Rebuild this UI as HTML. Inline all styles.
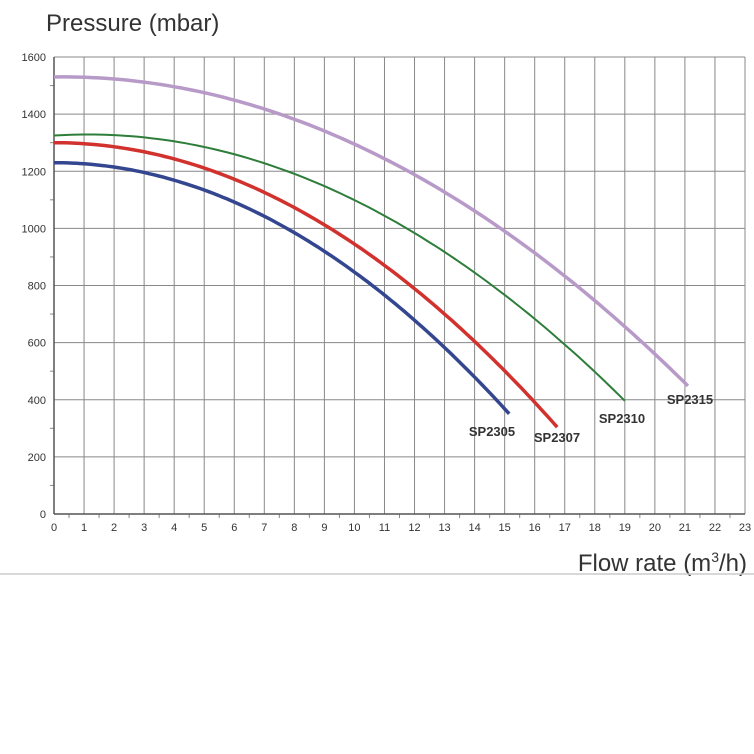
<!DOCTYPE html>
<html><head><meta charset="utf-8"><style>
html,body{margin:0;padding:0;background:#fff;}
svg{display:block;font-family:"Liberation Sans",sans-serif;}
</style></head><body>
<svg id="s" width="754" height="754" viewBox="0 0 754 754" xmlns="http://www.w3.org/2000/svg">
<text x="46" y="31" font-size="24" fill="#333">Pressure (mbar)</text>
<g id="grid"></g>
<g id="curves"></g>
<g font-size="13" font-weight="bold" fill="#333" text-anchor="middle">
<text x="492" y="436">SP2305</text>
<text x="557" y="442">SP2307</text>
<text x="622" y="423">SP2310</text>
<text x="690" y="404">SP2315</text>
</g>
<text x="747" y="571" font-size="24" fill="#333" text-anchor="end">Flow rate (m<tspan font-size="14" dy="-9">3</tspan><tspan dy="9">/h)</tspan></text>
<line x1="0" y1="574" x2="754" y2="574" stroke="#ccc" stroke-width="1.5"/>
</svg>
<script>
var NS="http://www.w3.org/2000/svg";
var X0=54,X1=745,Y0=514,Y1=57;
function px(x){return X0+(X1-X0)*x/23;}
function py(v){return Y0-(Y0-Y1)*v/1600;}
function el(p,t,a){var e=document.createElementNS(NS,t);for(var k in a)e.setAttribute(k,a[k]);p.appendChild(e);return e;}
var g=document.getElementById('grid');
for(var i=0;i<=23;i++){el(g,'line',{x1:px(i),x2:px(i),y1:Y1,y2:Y0,stroke:'#888','stroke-width':1});
 var t=el(g,'text',{x:px(i),y:Y0+17,'font-size':11,fill:'#333','text-anchor':'middle'});t.textContent=i;}
for(var i=0;i<23;i++){el(g,'line',{x1:px(i+.5),x2:px(i+.5),y1:Y0,y2:Y0+4,stroke:'#888'});}
for(var v=0;v<=1600;v+=200){el(g,'line',{x1:X0,x2:X1,y1:py(v),y2:py(v),stroke:'#888','stroke-width':1});
 var t=el(g,'text',{x:X0-8,y:py(v)+4,'font-size':11,fill:'#333','text-anchor':'end'});t.textContent=v;}
for(var v=100;v<1600;v+=200){el(g,'line',{x1:X0-4,x2:X0,y1:py(v),y2:py(v),stroke:'#888'});}
el(g,'line',{x1:X0,x2:X1,y1:Y0,y2:Y0,stroke:'#555','stroke-width':1.5});
el(g,'line',{x1:X0,x2:X0,y1:Y1,y2:Y0,stroke:'#555','stroke-width':1.5});
var c=document.getElementById('curves');
var cs=[
 {a:1530,c:1.5,b:2.5,e:21.1,col:'#b89ac8',w:3.5},
 {a:1325,c:6.6,b:2.92,e:19,col:'#2e7d3a',w:2},
 {a:1300,c:0,b:3.55,e:16.75,col:'#d2322d',w:3.5},
 {a:1230,c:0,b:3.83,e:15.15,col:'#34468f',w:3.5}];
cs.forEach(function(k){var d='';for(var i=0;i<=100;i++){var x=k.e*i/100;var v=k.a+k.c*x-k.b*x*x;d+=(i?'L':'M')+px(x).toFixed(1)+' '+py(v).toFixed(1);}
 el(c,'path',{d:d,fill:'none',stroke:k.col,'stroke-width':k.w});});
</script>
</body></html>
